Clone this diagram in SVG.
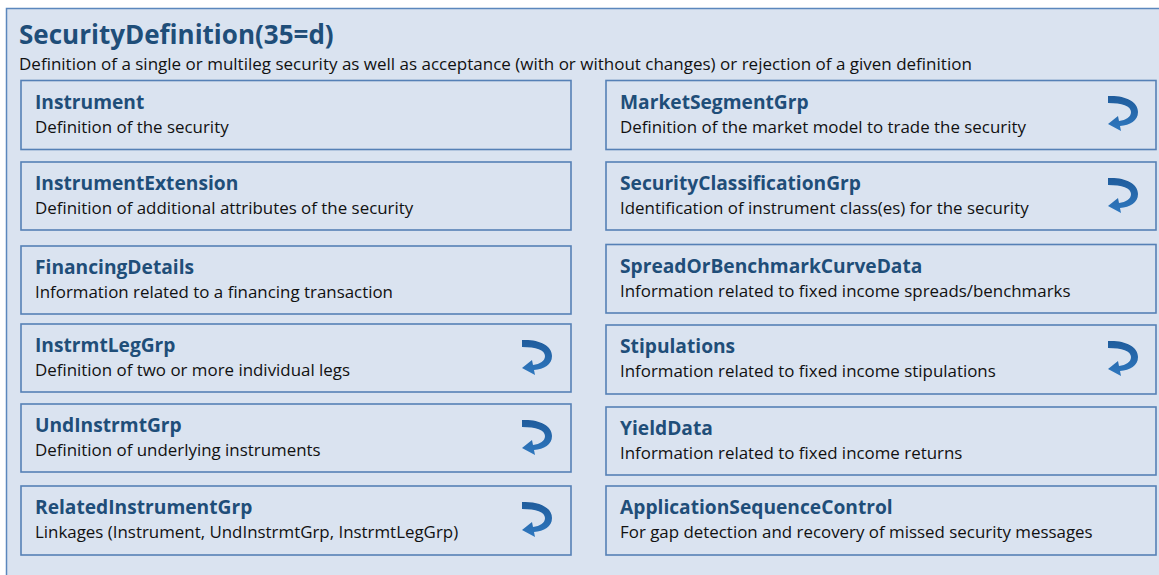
<svg xmlns="http://www.w3.org/2000/svg" width="1159" height="575" viewBox="0 0 1159 575">
<defs>
<style>
.panel{fill:#dae3f0;stroke:#5b87bd;stroke-width:1.5}
.box{fill:#dae3f0;stroke:#5580b6;stroke-width:1.6}
.ttl{font-family:"Open Sans","Noto Sans",sans-serif;font-weight:700;font-size:26px;fill:#1f4e79}
.sub{font-family:"Open Sans","Noto Sans",sans-serif;font-size:17px;fill:#111}
.bt{font-family:"Open Sans","Noto Sans",sans-serif;font-weight:700;font-size:19.2px;fill:#1f4e79}
.bd{font-family:"Open Sans","Noto Sans",sans-serif;font-size:16.9px;fill:#111}
</style>
<linearGradient id="ag" x1="0" y1="0" x2="0" y2="1">
<stop offset="0" stop-color="#1f5c9c"/>
<stop offset="1" stop-color="#2f78bf"/>
</linearGradient>
<symbol id="loop" viewBox="-16 -20 34 40" overflow="visible">
<path fill="url(#ag)" d="M -14,-17 C 2,-18 16,-12 16,-1 C 16,8 8,12 -2,13 L -1,18 L -14,11 L -4,3 L -3,8 C 4,7 9,4 9,-1 C 9,-7 0,-10 -14,-10 Z"/>
</symbol>
</defs>
<rect class="panel" x="6.5" y="8.5" width="1160" height="580"/>
<g id="header">
<text class="ttl" x="19" y="44">SecurityDefinition(35=d)</text>
<text class="sub" x="19" y="70">Definition of a single or multileg security as well as acceptance (with or without changes) or rejection of a given definition</text>
</g>
<g id="connectors"></g>
<g id="instrument">
<rect class="box" x="21" y="80.5" width="550" height="69"/>
<text class="bt" x="35" y="109">Instrument</text>
<text class="bd" x="35" y="133">Definition of the security</text>
</g>
<g id="instrumentExtension">
<rect class="box" x="21" y="162" width="550" height="68"/>
<text class="bt" x="35" y="190">InstrumentExtension</text>
<text class="bd" x="35" y="214">Definition of additional attributes of the security</text>
</g>
<g id="financingDetails">
<rect class="box" x="21" y="246" width="550" height="68"/>
<text class="bt" x="35" y="274">FinancingDetails</text>
<text class="bd" x="35" y="298">Information related to a financing transaction</text>
</g>
<g id="instrmtLegGrp">
<rect class="box" x="21" y="324" width="550" height="68"/>
<text class="bt" x="35" y="352">InstrmtLegGrp</text>
<text class="bd" x="35" y="376">Definition of two or more individual legs</text>
<use href="#loop" x="520" y="337" width="34" height="40"/>
</g>
<g id="undInstrmtGrp">
<rect class="box" x="21" y="404" width="550" height="68"/>
<text class="bt" x="35" y="432">UndInstrmtGrp</text>
<text class="bd" x="35" y="456">Definition of underlying instruments</text>
<use href="#loop" x="520" y="417" width="34" height="40"/>
</g>
<g id="relatedInstrumentGrp">
<rect class="box" x="21" y="486" width="550" height="69"/>
<text class="bt" x="35" y="514">RelatedInstrumentGrp</text>
<text class="bd" x="35" y="538">Linkages (Instrument, UndInstrmtGrp, InstrmtLegGrp)</text>
<use href="#loop" x="520" y="499" width="34" height="40"/>
</g>
<g id="marketSegmentGrp">
<rect class="box" x="606" y="80.5" width="550" height="69"/>
<text class="bt" x="620" y="109">MarketSegmentGrp</text>
<text class="bd" x="620" y="133">Definition of the market model to trade the security</text>
<use href="#loop" x="1106" y="93" width="34" height="40"/>
</g>
<g id="securityClassificationGrp">
<rect class="box" x="606" y="162" width="550" height="68"/>
<text class="bt" x="620" y="190">SecurityClassificationGrp</text>
<text class="bd" x="620" y="214">Identification of instrument class(es) for the security</text>
<use href="#loop" x="1106" y="175" width="34" height="40"/>
</g>
<g id="spreadOrBenchmarkCurveData">
<rect class="box" x="606" y="244.5" width="550" height="68.5"/>
<text class="bt" x="620" y="273">SpreadOrBenchmarkCurveData</text>
<text class="bd" x="620" y="297">Information related to fixed income spreads/benchmarks</text>
</g>
<g id="stipulations">
<rect class="box" x="606" y="325" width="550" height="69"/>
<text class="bt" x="620" y="353">Stipulations</text>
<text class="bd" x="620" y="377">Information related to fixed income stipulations</text>
<use href="#loop" x="1106" y="338" width="34" height="40"/>
</g>
<g id="yieldData">
<rect class="box" x="606" y="407" width="550" height="68"/>
<text class="bt" x="620" y="435">YieldData</text>
<text class="bd" x="620" y="459">Information related to fixed income returns</text>
</g>
<g id="applicationSequenceControl">
<rect class="box" x="606" y="486" width="550" height="69"/>
<text class="bt" x="620" y="514">ApplicationSequenceControl</text>
<text class="bd" x="620" y="538">For gap detection and recovery of missed security messages</text>
</g>
</svg>
